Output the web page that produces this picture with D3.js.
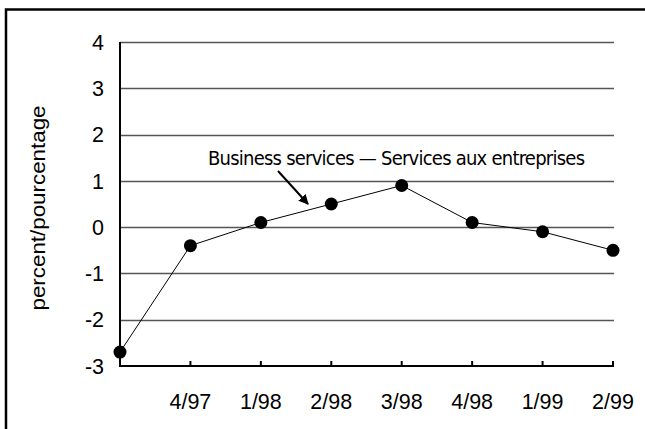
<!DOCTYPE html>
<html>
<head>
<meta charset="utf-8">
<script src="https://cdn.jsdelivr.net/npm/d3@7"></script>
<style>
  html, body { margin: 0; padding: 0; background: #fff; }
  svg { display: block; }
  text { font-family: "Liberation Sans", Arial, sans-serif; fill: #000; }
</style>
</head>
<body>
<svg id="chart" width="645" height="429"></svg>
<script>
const categories = ["", "4/97", "1/98", "2/98", "3/98", "4/98", "1/99", "2/99"];
const values = [-2.7, -0.4, 0.1, 0.5, 0.9, 0.1, -0.1, -0.5];
const yTicks = [-3, -2, -1, 0, 1, 2, 3, 4];
const yTitle = "percent/pourcentage";
const annotation = "Business services \u2014 Services aux entreprises";

const svg = d3.select("#chart");
const plotLeft = 120, plotRight = 613, plotTop = 42, plotBottom = 366;

const x = d3.scaleLinear().domain([0, categories.length - 1]).range([plotLeft, plotRight]);
const y = d3.scaleLinear().domain([-3, 4]).range([plotBottom, plotTop]);

// outer frame (top and left edges visible)
svg.append("path").attr("d", "M6,429V9.5H645").attr("fill", "none")
  .attr("stroke", "#000").attr("stroke-width", 2.5);

// gridlines
svg.append("g").selectAll("line").data(yTicks.filter(d => d > -3)).join("line")
  .attr("x1", plotLeft).attr("x2", plotRight + 1)
  .attr("y1", d => Math.round(y(d)) + 0.5).attr("y2", d => Math.round(y(d)) + 0.5)
  .attr("stroke", "#555").attr("stroke-width", 1.3);

// y tick labels
svg.append("g").selectAll("text").data(yTicks).join("text")
  .attr("x", 104).attr("y", d => y(d)).attr("dy", "0.36em")
  .attr("text-anchor", "end").attr("font-size", 21.5)
  .text(d => d);

// x axis ticks & labels
const xg = svg.append("g");
xg.selectAll("line").data(d3.range(1, categories.length)).join("line")
  .attr("x1", d => x(d)).attr("x2", d => x(d))
  .attr("y1", plotBottom).attr("y2", plotBottom - 5)
  .attr("stroke", "#000").attr("stroke-width", 2);
xg.selectAll("text").data(d3.range(1, categories.length)).join("text")
  .attr("x", d => x(d)).attr("y", 409)
  .attr("text-anchor", "middle").attr("font-size", 21.5)
  .text(d => categories[d]);

// axes lines
svg.append("line").attr("x1", plotLeft).attr("x2", plotLeft).attr("y1", plotTop).attr("y2", plotBottom + 1)
  .attr("stroke", "#000").attr("stroke-width", 2);
svg.append("line").attr("x1", plotLeft - 1).attr("x2", plotRight + 1).attr("y1", plotBottom).attr("y2", plotBottom)
  .attr("stroke", "#000").attr("stroke-width", 2);

// y title
svg.append("text")
  .attr("transform", `translate(45,208) rotate(-90)`)
  .attr("text-anchor", "middle").attr("font-size", 21)
  .attr("textLength", 205).attr("lengthAdjust", "spacingAndGlyphs")
  .text(yTitle);

// series line
const line = d3.line().x((d, i) => x(i)).y(d => y(d));
svg.append("path").datum(values).attr("d", line)
  .attr("fill", "none").attr("stroke", "#000").attr("stroke-width", 1);

svg.append("g").selectAll("circle").data(values).join("circle")
  .attr("cx", (d, i) => x(i)).attr("cy", d => y(d)).attr("r", 6.5)
  .attr("fill", "#000");

// annotation
svg.append("text").attr("x", 208).attr("y", 165)
  .attr("font-size", 20)
  .attr("textLength", 377).attr("lengthAdjust", "spacing")
  .style("font-family", "'Liberation Sans Narrow', 'DejaVu Sans Condensed', 'Liberation Sans', sans-serif")
  .text(annotation);

// arrow
const defs = svg.append("defs");
defs.append("marker").attr("id", "ah").attr("viewBox", "0 0 10 10")
  .attr("refX", 9).attr("refY", 5).attr("markerWidth", 10).attr("markerHeight", 10)
  .attr("markerUnits", "userSpaceOnUse").attr("orient", "auto")
  .append("path").attr("d", "M0,0L10,5L0,10z").attr("fill", "#000");
svg.append("line").attr("x1", 278).attr("y1", 171).attr("x2", 308).attr("y2", 204)
  .attr("stroke", "#000").attr("stroke-width", 2).attr("marker-end", "url(#ah)");
</script>
</body>
</html>
